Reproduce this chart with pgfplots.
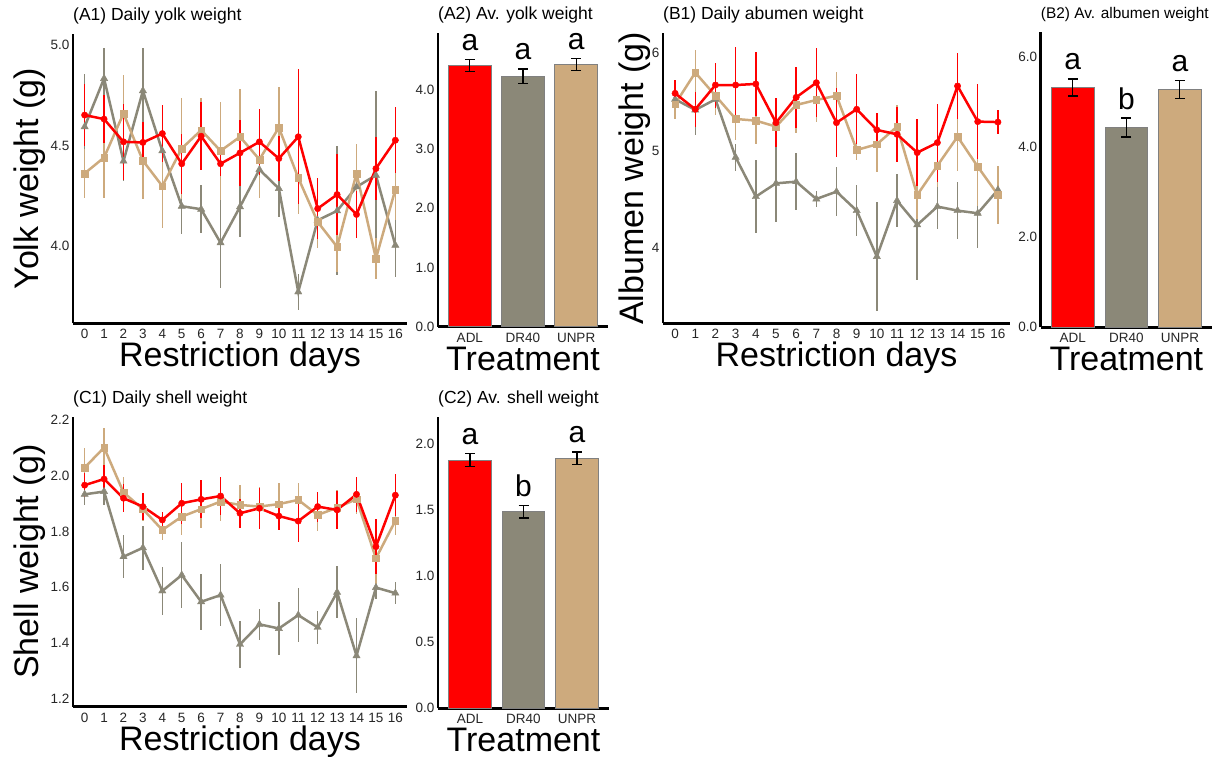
\documentclass[border=0pt]{standalone}
\usepackage{fontspec}
\setmainfont{Liberation Sans}
\usepackage{pgfplots}
\usepackage{pgfplotstable}
\pgfplotsset{compat=1.18}
\definecolor{cADL}{HTML}{FF0000}
\definecolor{cDR}{HTML}{8B8878}
\definecolor{cUN}{HTML}{CDAA7D}

\pgfplotstableread{
day adl adle dr dre un une
0 4.652 0.155 4.594 0.26 4.362 0.12
1 4.632 0.12 4.834 0.15 4.441 0.2
2 4.519 0.19 4.423 0.10 4.660 0.19
3 4.516 0.10 4.773 0.21 4.425 0.19
4 4.560 0.14 4.474 0.12 4.299 0.21
5 4.410 0.15 4.199 0.14 4.486 0.25
6 4.547 0.17 4.184 0.12 4.577 0.16
7 4.410 0.06 4.017 0.225 4.474 0.245
8 4.464 0.165 4.196 0.15 4.544 0.24
9 4.519 0.165 4.381 0.14 4.431 0.19
10 4.436 0.11 4.287 0.14 4.590 0.20
11 4.544 0.335 3.773 0.09 4.340 0.18
12 4.187 0.15 4.129 0.11 4.121 0.13
13 4.257 0.20 4.176 0.32 3.997 0.125
14 4.158 0.115 4.295 0.14 4.362 0.145
15 4.386 0.155 4.353 0.42 3.939 0.10
16 4.527 0.165 4.005 0.16 4.282 0.15
}\yolk

\pgfplotstableread{
day adl adle dr dre un une
0 5.584 0.14 5.523 0.15 5.475 0.15
1 5.421 0.18 5.414 0.26 5.796 0.23
2 5.669 0.23 5.523 0.10 5.560 0.20
3 5.669 0.39 4.930 0.14 5.322 0.21
4 5.680 0.33 4.528 0.37 5.305 0.24
5 5.284 0.25 4.664 0.40 5.244 0.19
6 5.543 0.31 4.681 0.29 5.465 0.29
7 5.693 0.35 4.504 0.08 5.516 0.23
8 5.284 0.35 4.579 0.25 5.560 0.24
9 5.421 0.36 4.385 0.26 5.005 0.10
10 5.210 0.17 3.915 0.56 5.063 0.28
11 5.165 0.28 4.487 0.27 5.244 0.22
12 4.978 0.34 4.239 0.56 4.545 0.25
13 5.080 0.40 4.426 0.23 4.845 0.22
14 5.659 0.34 4.385 0.29 5.141 0.35
15 5.295 0.38 4.358 0.36 4.835 0.40
16 5.290 0.12 4.597 0.13 4.546 0.30
}\albumen

\pgfplotstableread{
day adl adle dr dre un une
0 1.966 0.044 1.933 0.037 2.029 0.072
1 1.988 0.050 1.943 0.050 2.101 0.069
2 1.919 0.050 1.709 0.077 1.940 0.055
3 1.889 0.048 1.741 0.080 1.880 0.044
4 1.841 0.030 1.586 0.086 1.805 0.036
5 1.901 0.074 1.643 0.120 1.853 0.066
6 1.915 0.068 1.547 0.100 1.880 0.067
7 1.927 0.070 1.571 0.110 1.907 0.070
8 1.865 0.052 1.394 0.084 1.895 0.072
9 1.883 0.074 1.466 0.056 1.889 0.072
10 1.855 0.050 1.451 0.094 1.898 0.075
11 1.837 0.076 1.499 0.096 1.913 0.062
12 1.889 0.054 1.455 0.058 1.859 0.057
13 1.877 0.068 1.581 0.093 1.885 0.063
14 1.933 0.062 1.353 0.135 1.916 0.052
15 1.745 0.100 1.598 0.040 1.703 0.093
16 1.930 0.075 1.578 0.040 1.838 0.050
}\shell

\tikzset{lt/.style={font=\fontsize{30}{36}\selectfont, anchor=base, text=black}}

\pgfplotsset{
  base/.style={
    scale only axis, anchor=south west,
    axis lines=left,
    axis line style={line width=2.5pt,-,black},
    major tick length=0pt,
    tick label style={font=\fontsize{13.5}{15}\selectfont, text=black!85},
    xticklabel style={yshift=-2.5pt},
    /pgf/number format/assume math mode=true,
    clip=false,
    title style={at={(axis description cs:0,1)}, anchor=base west, yshift=7.5pt,
      font=\fontsize{17.5}{20}\selectfont, inner sep=0pt},
    label style={font=\fontsize{34}{40}\selectfont},
    xlabel style={at={(axis description cs:0.5,0)}, anchor=base, yshift=-43.5pt, inner sep=0pt},
  },
  daily/.style={base, width=334pt, xmin=-0.6, xmax=16.6, xtick={0,...,16},
    xlabel={Restriction days}},
  avg/.style={base, ymin=0, xmin=0.4, xmax=3.6, xtick={1,2,3},
    xticklabels={ADL,DR40,UNPR}, xlabel={Treatment},
    yticklabel style={/pgf/number format/.cd, fixed, fixed zerofill, precision=1}},
  ln/.style={line width=2.5pt, mark options={solid, line width=0.4pt},
    error bars/y dir=both, error bars/y explicit, error bars/error mark=none,
    error bars/error bar style={line width=1.5pt}},
  br/.style={ybar, bar width=0.8, bar shift=0pt, draw=black!50, line width=0.8pt,
    error bars/y dir=both, error bars/y explicit,
    error bars/error bar style={black, line width=1.2pt},
    error bars/error mark=-,
    error bars/error mark options={rotate=90, black, line width=1.2pt, mark size=5pt}},
}

\begin{document}
\begin{tikzpicture}
\path[use as bounding box] (0,0) rectangle (1216pt,757pt);

% A1
\begin{axis}[daily, at={(73pt,433.7pt)}, height=289.3pt,
  ymin=3.617, ymax=5.055, ytick={4.0,4.5,5.0},
  yticklabel style={/pgf/number format/.cd, fixed, fixed zerofill, precision=1},
  title={(A1) Daily yolk weight}, ylabel={Yolk weight (g)},
  ylabel style={at={(axis description cs:-0.1287,0.5)}, anchor=center, inner sep=0pt}]
\addplot[ln, cDR, mark=triangle*, mark size=4.2pt] table[x=day, y=dr, y error=dre] {\yolk};
\addplot[ln, cUN, mark=square*, mark size=3.3pt] table[x=day, y=un, y error=une] {\yolk};
\addplot[ln, cADL, mark=*, mark size=3.2pt] table[x=day, y=adl, y error=adle] {\yolk};
\end{axis}

% A2
\begin{axis}[avg, at={(438pt,430.3pt)}, width=170pt, height=293.4pt,
  ymax=4.95, ytick={0,1,2,3,4}, title={(A2) Av. yolk weight}]
\addplot[br, fill=cADL] coordinates {(1,4.408) +- (0,0.10)};
\addplot[br, fill=cDR] coordinates {(2,4.229) +- (0,0.12)};
\addplot[br, fill=cUN] coordinates {(3,4.425) +- (0,0.105)};
\node[lt, yshift=9pt] at (axis cs:1,4.508) {a};
\node[lt, yshift=9pt] at (axis cs:2,4.349) {a};
\node[lt, yshift=9pt] at (axis cs:3,4.530) {a};
\end{axis}

% B1
\begin{axis}[base, at={(663pt,433.7pt)}, width=347pt, height=290pt,
  xmin=-0.6, xmax=16.6, xtick={0,...,16}, xlabel={Restriction days},
  ymin=3.233, ymax=6.198, ytick={4,5,6},
  title={(B1) Daily abumen weight}, ylabel={Albumen weight (g)},
  ylabel style={at={(axis description cs:-0.0807,0.5)}, anchor=center, inner sep=0pt}]
\addplot[ln, cDR, mark=triangle*, mark size=4.2pt] table[x=day, y=dr, y error=dre] {\albumen};
\addplot[ln, cUN, mark=square*, mark size=3.3pt] table[x=day, y=un, y error=une] {\albumen};
\addplot[ln, cADL, mark=*, mark size=3.2pt] table[x=day, y=adl, y error=adle] {\albumen};
\end{axis}

% B2
\begin{axis}[avg, at={(1040.7pt,429.7pt)}, width=171.3pt, height=295.6pt,
  ymax=6.57, ytick={0,2,4,6}, title={(B2) Av. albumen weight},
  title style={font=\fontsize{15.4}{18}\selectfont}]
\addplot[br, fill=cADL] coordinates {(1,5.33) +- (0,0.19)};
\addplot[br, fill=cDR] coordinates {(2,4.44) +- (0,0.21)};
\addplot[br, fill=cUN] coordinates {(3,5.28) +- (0,0.20)};
\node[lt, yshift=9pt] at (axis cs:1,5.52) {a};
\node[lt, yshift=9pt] at (axis cs:2,4.65) {b};
\node[lt, yshift=9pt] at (axis cs:3,5.48) {a};
\end{axis}

% C1
\begin{axis}[daily, at={(73pt,50.3pt)}, height=290pt,
  ymin=1.17, ymax=2.212, ytick={1.2,1.4,1.6,1.8,2.0,2.2},
  yticklabel style={/pgf/number format/.cd, fixed, fixed zerofill, precision=1},
  title={(C1) Daily shell weight}, ylabel={Shell weight (g)},
  ylabel style={at={(axis description cs:-0.1287,0.5)}, anchor=center, inner sep=0pt}]
\addplot[ln, cDR, mark=triangle*, mark size=4.2pt] table[x=day, y=dr, y error=dre] {\shell};
\addplot[ln, cUN, mark=square*, mark size=3.3pt] table[x=day, y=un, y error=une] {\shell};
\addplot[ln, cADL, mark=*, mark size=3.2pt] table[x=day, y=adl, y error=adle] {\shell};
\end{axis}

% C2
\begin{axis}[avg, at={(438pt,48.7pt)}, width=171pt, height=291.6pt,
  ymax=2.209, ytick={0,0.5,1,1.5,2}, title={(C2) Av. shell weight}]
\addplot[br, fill=cADL] coordinates {(1,1.881) +- (0,0.048)};
\addplot[br, fill=cDR] coordinates {(2,1.490) +- (0,0.048)};
\addplot[br, fill=cUN] coordinates {(3,1.894) +- (0,0.048)};
\node[lt, yshift=9pt] at (axis cs:1,1.929) {a};
\node[lt, yshift=9pt] at (axis cs:2,1.538) {b};
\node[lt, yshift=9pt] at (axis cs:3,1.942) {a};
\end{axis}
\end{tikzpicture}
\end{document}
